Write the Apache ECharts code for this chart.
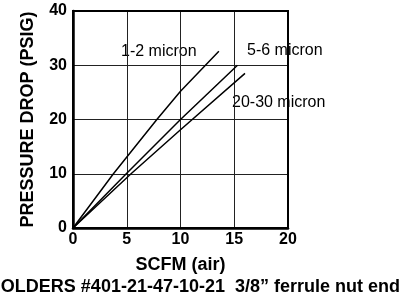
<!DOCTYPE html>
<html><head><meta charset="utf-8">
<script src="https://cdn.jsdelivr.net/npm/echarts@6/dist/echarts.min.js"></script>
<style>html,body{margin:0;padding:0;background:#fff}#c{width:403px;height:298px}</style>
</head><body><div id="c"></div>
<script>
var xTicks = [0, 5, 10, 15, 20];
var yTicks = [0, 10, 20, 30, 40];
var seriesNames = ['1-2 micron', '5-6 micron', '20-30 micron'];
var s1 = [[0, 0], [3.76, 10], [7.8, 20], [10, 25.2], [13.57, 32.6]];
var s2 = [[0, 0], [5, 10.1], [10, 20], [15.3, 30]];
var s3 = [[0, 0], [5.4, 10], [10, 18.1], [16, 28.5]];
var xTitle = 'SCFM (air)';
var yTitle = 'PRESSURE DROP (PSIG)';
var footer = 'HOLDERS #401-21-47-10-21  3/8\u201D ferrule nut end';

var chart = echarts.init(document.getElementById('c'), null, {renderer: 'canvas'});
var font = 'Liberation Sans, Arial, sans-serif';
function line(name, data) {
  return {name: name, type: 'line', data: data, symbol: 'none', smooth: false,
    lineStyle: {color: '#000', width: 1.5}, z: 5, silent: true};
}
chart.setOption({
  animation: false,
  grid: {left: 73, right: 115, top: 11, bottom: 70, containLabel: false},
  xAxis: {type: 'value', min: xTicks[0], max: xTicks[xTicks.length - 1], interval: 5,
    axisLine: {lineStyle: {color: '#000', width: 2.5}},
    axisTick: {show: false},
    axisLabel: {color: '#000', fontFamily: font, fontWeight: 'bold', fontSize: 16, margin: 4},
    splitLine: {show: true, lineStyle: {color: '#222', width: 1}},
    name: xTitle, nameLocation: 'middle', nameGap: 28,
    nameTextStyle: {color: '#000', fontFamily: font, fontWeight: 'bold', fontSize: 18}
  },
  yAxis: {type: 'value', min: yTicks[0], max: yTicks[yTicks.length - 1], interval: 10,
    axisLine: {show: true, lineStyle: {color: '#000', width: 2.5}},
    axisTick: {show: false},
    axisLabel: {color: '#000', fontFamily: font, fontWeight: 'bold', fontSize: 16, margin: 6},
    splitLine: {show: true, lineStyle: {color: '#222', width: 1}},
    name: yTitle, nameLocation: 'middle', nameGap: 36, nameRotate: 90,
    nameTextStyle: {color: '#000', fontFamily: font, fontWeight: 'bold', fontSize: 18}
  },
  series: [line(seriesNames[0], s1), line(seriesNames[1], s2), line(seriesNames[2], s3)],
  graphic: [
    {type: 'rect', shape: {x: 73, y: 11, width: 215, height: 217}, style: {fill: 'none', stroke: '#000', lineWidth: 2}, z: 10, silent: true},
    {type: 'text', left: 121, top: 44, style: {text: seriesNames[0], font: '16px ' + font, fill: '#000'}},
    {type: 'text', left: 247, top: 43, style: {text: seriesNames[1], font: '16px ' + font, fill: '#000'}},
    {type: 'text', left: 232, top: 95, style: {text: seriesNames[2], font: '16px ' + font, fill: '#000'}},
    {type: 'text', right: 3, top: 278, style: {text: footer, font: 'bold 18px ' + font, fill: '#000'}}
  ]
});
</script></body></html>
